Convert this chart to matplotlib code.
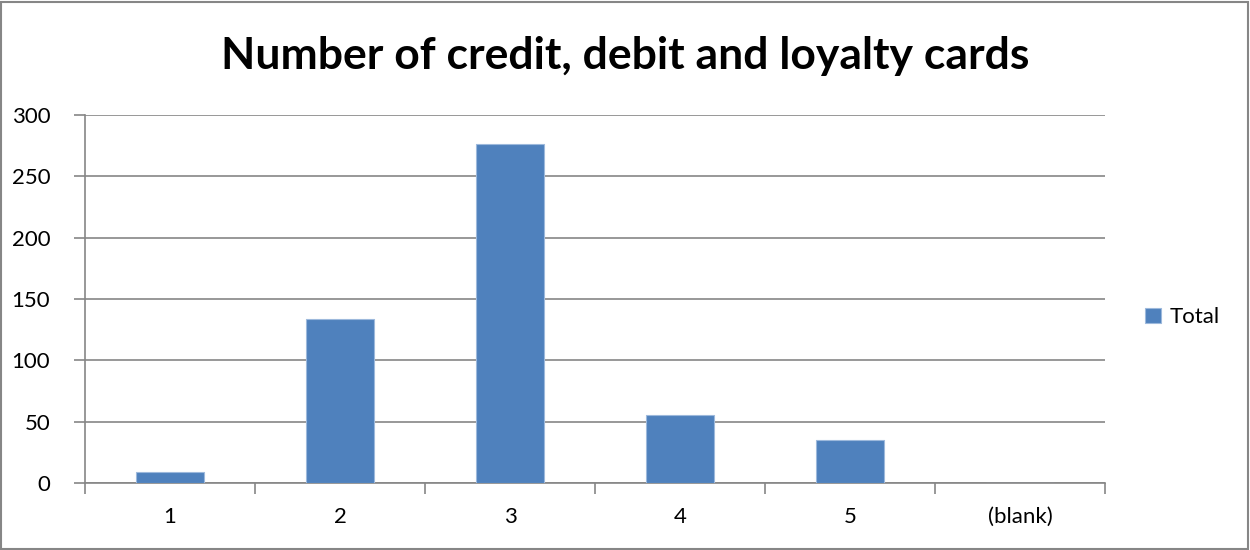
import matplotlib.pyplot as plt
import numpy as np

plt.rcParams['font.family'] = ['Lato', 'DejaVu Sans']

categories = ['1', '2', '3', '4', '5', '(blank)']
totals = [9, 134, 276, 55, 35, 0]

bar_color = '#4f81bd'
grid_color = '#868686'

fig = plt.figure(figsize=(12.5, 5.5), dpi=100)
ax = fig.add_axes([0.068, 0.122, 0.816, 0.669])

x = np.arange(len(categories))
ax.bar(x, totals, width=0.4, color=bar_color, edgecolor='#9db9dc', linewidth=0.8,
       label='Total', zorder=3)

ax.set_xlim(-0.5, len(categories) - 0.5)
ax.set_ylim(0, 300)
ax.set_yticks(range(0, 301, 50))
ax.yaxis.grid(True, color=grid_color, linewidth=1.2, zorder=0)

# category labels centred, tick marks at the boundaries
ax.set_xticks(x)
ax.set_xticklabels(categories, fontsize=16)
ax.tick_params(axis='x', which='major', length=0, pad=17)
ax.set_xticks(np.arange(-0.5, len(categories), 1), minor=True)
ax.tick_params(axis='x', which='minor', length=8, width=1.2, color=grid_color)
ax.tick_params(axis='y', length=8, width=1.2, color=grid_color, labelsize=16, pad=17)

for side in ['top', 'right']:
    ax.spines[side].set_visible(False)
for side in ['left', 'bottom']:
    ax.spines[side].set_color(grid_color)
    ax.spines[side].set_linewidth(1.2)

fig.suptitle('Number of credit, debit and loyalty cards', x=0.5, y=0.935,
             fontsize=32, fontweight='bold')

ax.legend(loc='center left', bbox_to_anchor=(1.02, 0.45), frameon=False,
          fontsize=16, handlelength=0.7, handleheight=0.7, handletextpad=0.4)

fig.patches.append(plt.Rectangle((0.001, 0.002), 0.997, 0.995, transform=fig.transFigure,
                                 fill=False, edgecolor='#868686', linewidth=1.5))

fig.savefig('out.png', dpi=100, facecolor='white')
